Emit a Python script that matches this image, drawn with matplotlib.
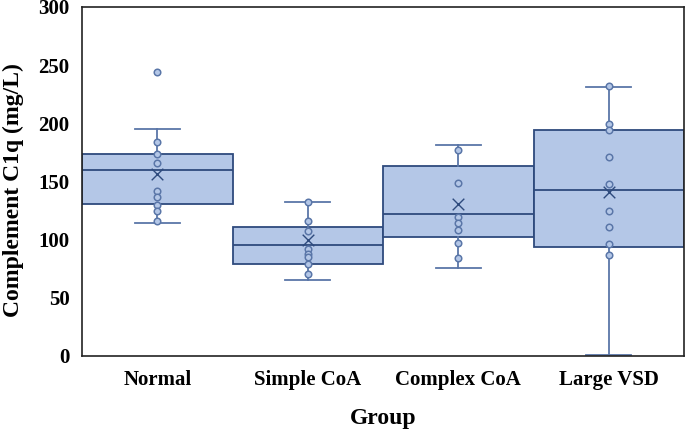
import matplotlib.pyplot as plt

# groups and box statistics (Excel-style box plot)
groups = ["Normal", "Simple CoA", "Complex CoA", "Large VSD"]
q1 = [131, 79, 102.5, 94]
median = [160, 95.5, 122, 142.5]
q3 = [174, 110.5, 163.5, 194]
whisker_low = [114, 65.5, 75.5, 1]
whisker_high = [195, 132, 181.5, 231]
means = [156, 100, 131, 140.5]

# visible inner points and outliers
points_normal = [244, 184, 174, 166, 142, 137, 130, 125, 116]
points_simple = [132, 116, 107, 92, 88, 85, 79, 70]
points_complex = [177, 149, 119, 114, 108, 97, 84]
points_vsd = [232, 199, 194, 171, 148, 125, 111, 96, 87]
points = [points_normal, points_simple, points_complex, points_vsd]

fill = "#B4C7E7"
edge = "#2E4A7D"
whisk = "#5A76A8"

plt.rcParams['font.family'] = ['Liberation Serif', 'DejaVu Serif']
plt.rcParams['font.weight'] = 'bold'

fig = plt.figure(figsize=(6.85, 4.33), dpi=100)
ax = fig.add_axes([0.1197, 0.178, 0.879, 0.806])

stats = []
for i, g in enumerate(groups):
    stats.append({
        "label": g, "q1": q1[i], "med": median[i], "q3": q3[i],
        "whislo": whisker_low[i], "whishi": whisker_high[i],
        "mean": means[i], "fliers": [],
    })

ax.bxp(stats, positions=range(len(groups)), widths=1.0, patch_artist=True,
       showmeans=False, showfliers=False,
       boxprops=dict(facecolor=fill, edgecolor=edge, linewidth=1.3),
       medianprops=dict(color=edge, linewidth=1.3),
       whiskerprops=dict(color=whisk, linewidth=1.3),
       capprops=dict(color=whisk, linewidth=1.3),
       capwidths=0.3)

for i, pts in enumerate(points):
    ax.scatter([i] * len(pts), pts, s=22, facecolor=fill, edgecolor=whisk,
               linewidth=1.1, zorder=4)

ax.scatter(range(len(groups)), means, marker="x", s=70, color=edge,
           linewidth=1.0, zorder=5)

ax.set_xlim(-0.5, 3.5)
ax.set_ylim(0, 300)
ax.set_yticks(range(0, 301, 50))
ax.set_xticks(range(len(groups)))
ax.set_xticklabels(groups, fontsize=15, fontweight="bold")
ax.tick_params(axis="y", labelsize=15, length=0, pad=9)
ax.tick_params(axis="x", length=0, pad=10)
for lbl in ax.get_yticklabels():
    lbl.set_fontweight("bold")

for sp in ax.spines.values():
    sp.set_color("#222222")
    sp.set_linewidth(1.2)

ax.set_xlabel("Group", fontsize=17, fontweight="bold", labelpad=13)
ax.set_ylabel("Complement C1q (mg/L)", fontsize=17, fontweight="bold")
ax.yaxis.set_label_coords(-0.097, 0.476)

fig.savefig("out.png", dpi=100)
